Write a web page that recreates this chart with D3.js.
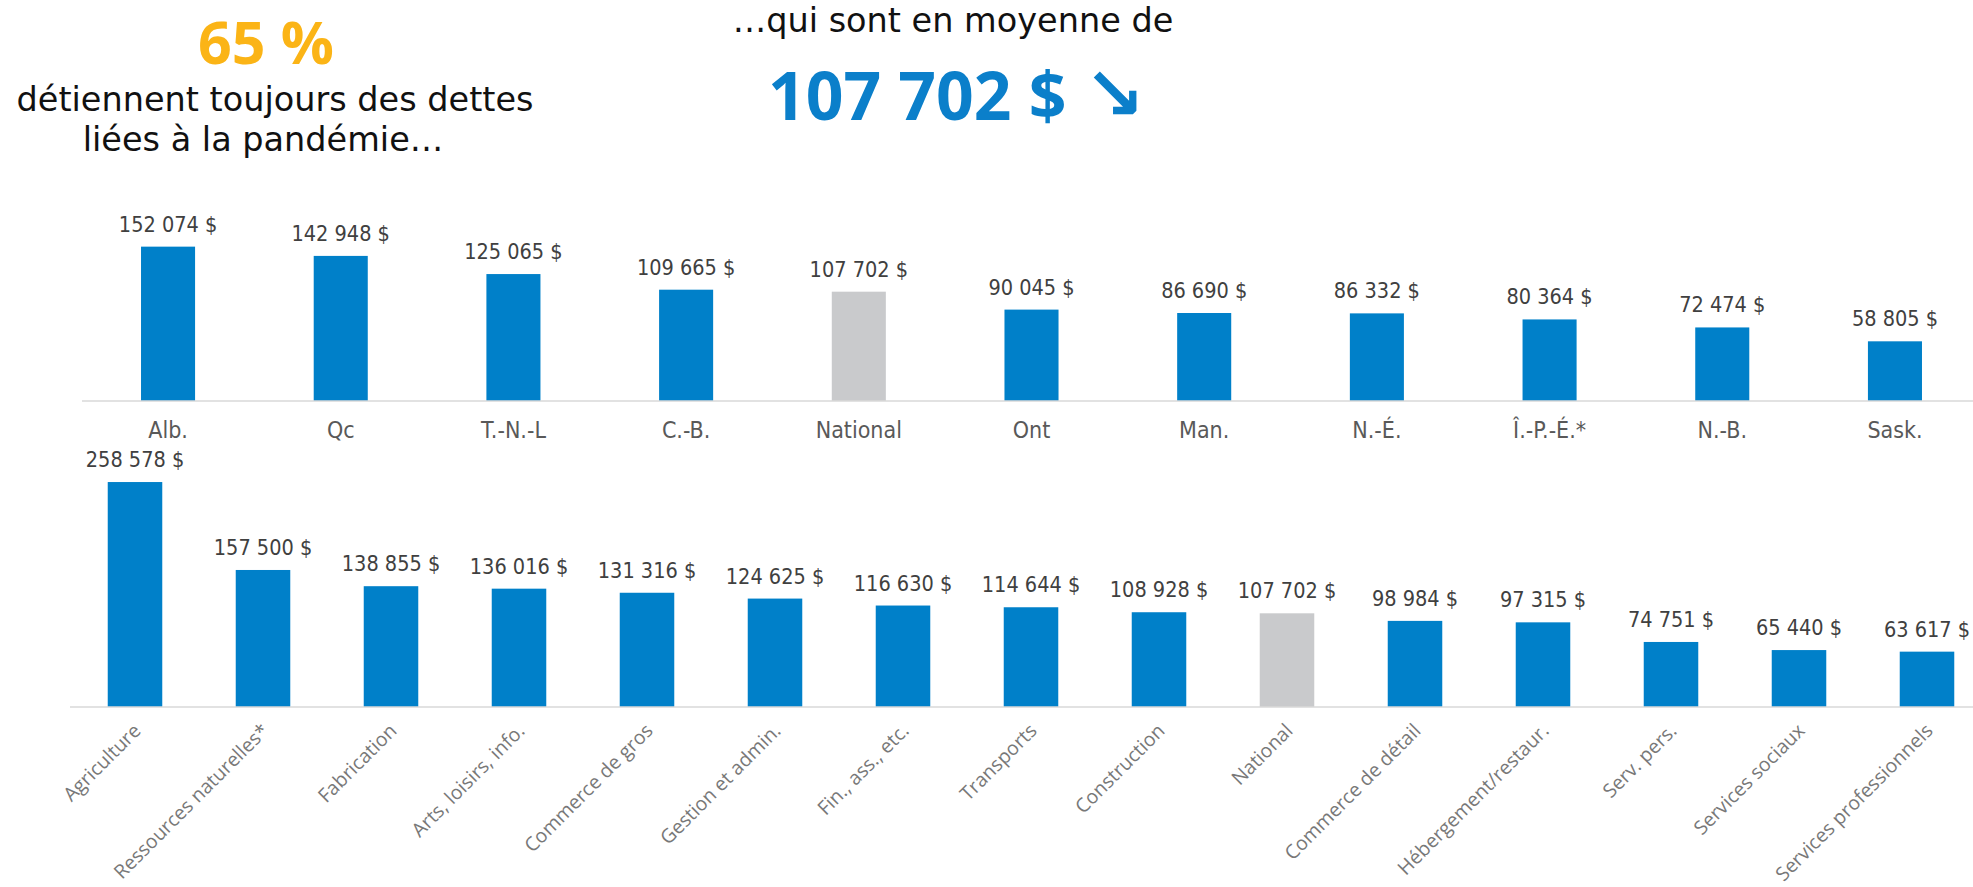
<!DOCTYPE html>
<html>
<head>
<meta charset="utf-8">
<script src="https://cdn.jsdelivr.net/npm/d3@7"></script>
<style>
  html, body { margin: 0; padding: 0; background: #ffffff; }
  svg { display: block; }
</style>
</head>
<body>
<svg id="chart" width="1973" height="887"></svg>
<script>
// ---- Data ----
const provinces = ["Alb.", "Qc", "T.-N.-L", "C.-B.", "National", "Ont", "Man.", "N.-É.", "Î.-P.-É.*", "N.-B.", "Sask."];
const provinceValues = [152074, 142948, 125065, 109665, 107702, 90045, 86690, 86332, 80364, 72474, 58805];

const sectors = ["Agriculture", "Ressources naturelles*", "Fabrication", "Arts, loisirs, info.", "Commerce de gros",
  "Gestion et admin.", "Fin., ass., etc.", "Transports", "Construction", "National", "Commerce de détail",
  "Hébergement/restaur.", "Serv. pers.", "Services sociaux", "Services professionnels"];
const sectorValues = [258578, 157500, 138855, 136016, 131316, 124625, 116630, 114644, 108928, 107702, 98984,
  97315, 74751, 65440, 63617];

const headlineShare = "65 %";
const headlineShareText = ["détiennent toujours des dettes", "liées à la pandémie…"];
const headlineAvgIntro = "…qui sont en moyenne de";
const headlineAvg = "107 702 $";
const headlineArrow = "↘";
const highlightCategory = "National";

// ---- Styles ----
const BLUE = "#0080C9";
const GREY_BAR = "#C9CACC";
const ORANGE = "#FBB416";
const BLUE_TEXT = "#0B7FCA";

const svg = d3.select("#chart");
const fmt = v => d3.format(",")(v).replace(/,/g, " ") + " $";

// ---- Headings ----
svg.append("text").attr("x", 266).attr("y", 64).attr("text-anchor", "middle")
  .attr("font-family", "'Open Sans', sans-serif").attr("font-weight", 700).attr("font-size", 59)
  .attr("fill", ORANGE).text(headlineShare);
svg.append("text").attr("x", 275).attr("y", 111).attr("text-anchor", "middle")
  .attr("font-family", "'DejaVu Sans', sans-serif").attr("font-size", 33.5)
  .attr("fill", "#111").text(headlineShareText[0]);
svg.append("text").attr("x", 263).attr("y", 151).attr("text-anchor", "middle")
  .attr("font-family", "'DejaVu Sans', sans-serif").attr("font-size", 33.5)
  .attr("fill", "#111").text(headlineShareText[1]);
svg.append("text").attr("x", 953).attr("y", 32).attr("text-anchor", "middle")
  .attr("font-family", "'DejaVu Sans', sans-serif").attr("font-size", 33.5)
  .attr("fill", "#111").text(headlineAvgIntro);
svg.append("text").attr("x", 768).attr("y", 120).attr("text-anchor", "start")
  .attr("font-family", "'Open Sans', sans-serif").attr("font-weight", 700).attr("font-size", 66)
  .attr("fill", BLUE_TEXT).text(headlineAvg);
svg.append("text").attr("x", 1084).attr("y", 119).attr("text-anchor", "start")
  .attr("font-family", "'DejaVu Sans', sans-serif").attr("font-weight", 700).attr("font-size", 73)
  .attr("fill", BLUE_TEXT).text(headlineArrow);

// ---- Top chart (provinces) ----
const xTop = d3.scaleBand().domain(provinces).range([81.7, 1981.3]).paddingInner(0.687).paddingOuter(0.3435);
const yTop = d3.scaleLinear().domain([0, 160000]).range([401, 401 - 160000 * 0.001015]);
const topData = provinces.map((c, i) => ({ c, v: provinceValues[i] }));

const gTop = svg.append("g");
gTop.selectAll("rect").data(topData).join("rect")
  .attr("x", d => xTop(d.c)).attr("width", xTop.bandwidth())
  .attr("y", d => yTop(d.v)).attr("height", d => yTop(0) - yTop(d.v))
  .attr("fill", d => d.c === highlightCategory ? GREY_BAR : BLUE);
gTop.append("line").attr("x1", 82).attr("x2", 1973).attr("y1", yTop(0)).attr("y2", yTop(0))
  .attr("stroke", "#D9D9D9").attr("stroke-width", 1.5);
gTop.selectAll("text.val").data(topData).join("text").attr("class", "val")
  .attr("x", d => xTop(d.c) + xTop.bandwidth() / 2).attr("y", d => yTop(d.v) - 15)
  .attr("text-anchor", "middle").attr("font-family", "'DejaVu Sans Condensed', 'DejaVu Sans', sans-serif")
  .attr("font-stretch", "condensed").attr("font-size", 21.5).attr("fill", "#404040").text(d => fmt(d.v));
const axTop = d3.axisBottom(xTop).tickSize(0).tickPadding(0);
gTop.append("g").attr("transform", `translate(0,${yTop(0)})`).call(axTop)
  .call(g => g.select(".domain").remove())
  .call(g => g.selectAll("text").attr("dy", null).attr("y", 37)
    .attr("font-family", "'DejaVu Sans Condensed', 'DejaVu Sans', sans-serif").attr("font-stretch", "condensed")
    .attr("font-size", 23).attr("fill", "#595959"));

// ---- Bottom chart (sectors) ----
const xBot = d3.scaleBand().domain(sectors).range([71, 1991]).paddingInner(0.574).paddingOuter(0.287);
const yBot = d3.scaleLinear().domain([0, 260000]).range([707, 707 - 260000 * 0.00087]);
const botData = sectors.map((c, i) => ({ c, v: sectorValues[i] }));

const gBot = svg.append("g");
gBot.selectAll("rect").data(botData).join("rect")
  .attr("x", d => xBot(d.c)).attr("width", xBot.bandwidth())
  .attr("y", d => yBot(d.v)).attr("height", d => yBot(0) - yBot(d.v))
  .attr("fill", d => d.c === highlightCategory ? GREY_BAR : BLUE);
gBot.append("line").attr("x1", 70).attr("x2", 1973).attr("y1", yBot(0)).attr("y2", yBot(0))
  .attr("stroke", "#D9D9D9").attr("stroke-width", 1.5);
gBot.selectAll("text.val").data(botData).join("text").attr("class", "val")
  .attr("x", d => xBot(d.c) + xBot.bandwidth() / 2).attr("y", d => yBot(d.v) - 15)
  .attr("text-anchor", "middle").attr("font-family", "'DejaVu Sans Condensed', 'DejaVu Sans', sans-serif")
  .attr("font-stretch", "condensed").attr("font-size", 21.5).attr("fill", "#404040").text(d => fmt(d.v));
const axBot = d3.axisBottom(xBot).tickSize(0).tickPadding(0);
gBot.append("g").attr("transform", `translate(0,${yBot(0)})`).call(axBot)
  .call(g => g.select(".domain").remove())
  .call(g => g.selectAll("text")
    .attr("dy", null).attr("y", null)
    .attr("text-anchor", "end")
    .attr("transform", "translate(7,25) rotate(-45)")
    .attr("font-family", "'Open Sans', sans-serif").attr("font-size", 19.5).attr("fill", "#787878"));
</script>
</body>
</html>
